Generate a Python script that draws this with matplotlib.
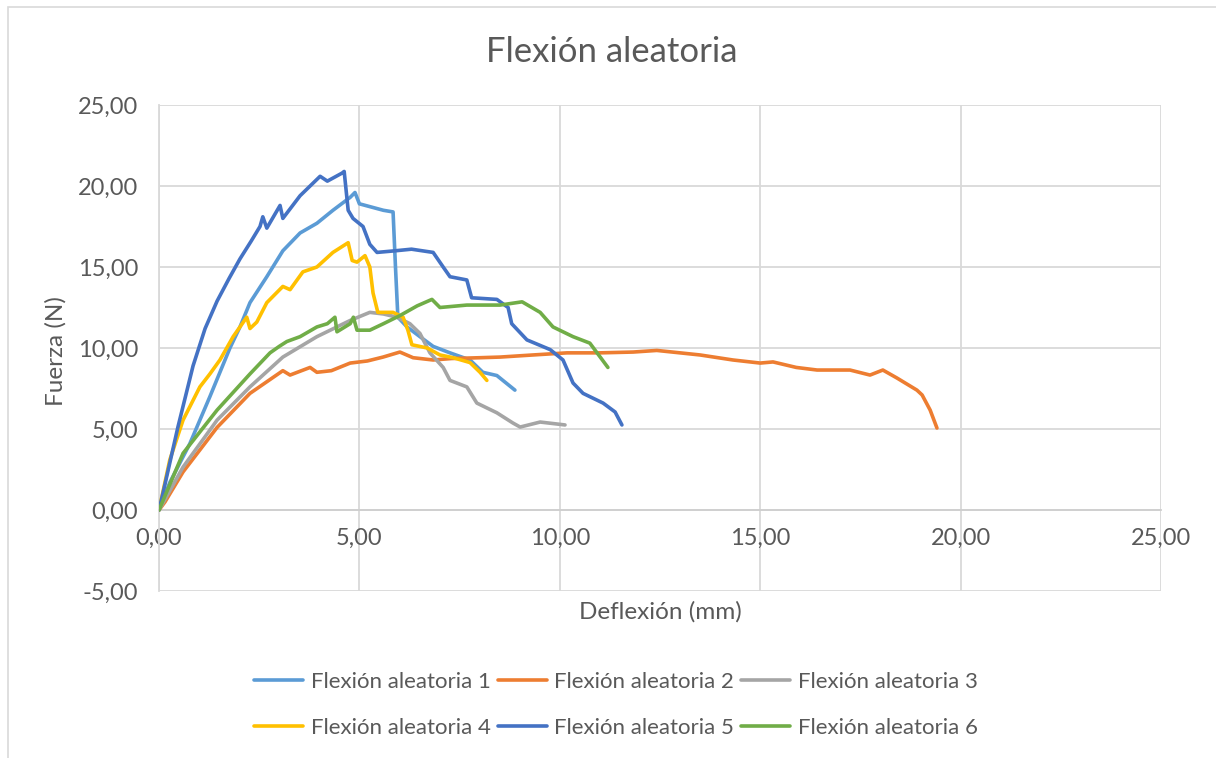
import matplotlib
matplotlib.use("Agg")
import matplotlib.pyplot as plt
from matplotlib.patches import Rectangle
from matplotlib.ticker import FuncFormatter, MultipleLocator

plt.rcParams['font.family'] = ['Lato', 'DejaVu Sans']

labels = ["Flexión aleatoria 1", "Flexión aleatoria 2", "Flexión aleatoria 3",
          "Flexión aleatoria 4", "Flexión aleatoria 5", "Flexión aleatoria 6"]
colors = ["#5B9BD5", "#ED7D31", "#A5A5A5", "#FFC000", "#4472C4", "#70AD47"]

# deflexión (mm) / fuerza (N) per test
x1 = [0, 0.27, 0.77, 1.27, 1.77, 2.02, 2.27, 2.69, 3.09, 3.52, 3.94, 4.34, 4.77, 4.89,
      5.0, 5.3, 5.6, 5.84, 5.9, 5.96, 6.19, 6.51, 6.84, 7.26, 7.76, 8.08, 8.43, 8.88]
y1 = [0, 1.7, 4.1, 7.0, 10.0, 11.3, 12.8, 14.4, 16.0, 17.1, 17.7, 18.5, 19.3, 19.6,
      18.9, 18.7, 18.5, 18.4, 15.0, 11.9, 11.3, 10.7, 10.1, 9.7, 9.26, 8.5, 8.3, 7.4]

x2 = [0, 0.15, 0.6, 1.45, 2.27, 3.09, 3.27, 3.45, 3.77, 3.94, 4.3, 4.77, 5.2, 5.59,
      6.01, 6.34, 6.84, 7.3, 8.0, 8.51, 9.33, 10.18, 11.0, 11.83, 12.42, 13.0, 13.5,
      14.32, 15.0, 15.32, 15.9, 16.42, 17.24, 17.74, 18.06, 18.41, 18.91, 19.04, 19.24, 19.41]
y2 = [0, 0.5, 2.35, 5.1, 7.2, 8.6, 8.33, 8.5, 8.8, 8.5, 8.6, 9.07, 9.2, 9.44,
      9.75, 9.4, 9.26, 9.35, 9.4, 9.44, 9.57, 9.7, 9.7, 9.75, 9.85, 9.7, 9.57,
      9.26, 9.07, 9.14, 8.8, 8.64, 8.64, 8.33, 8.64, 8.15, 7.4, 7.1, 6.17, 5.06]

x3 = [0, 0.6, 1.45, 2.27, 3.09, 3.94, 4.77, 5.26, 5.6, 5.94, 6.26, 6.51, 6.76, 7.09,
      7.26, 7.68, 7.93, 8.43, 8.83, 9.01, 9.51, 10.13]
y3 = [0, 2.65, 5.55, 7.6, 9.44, 10.7, 11.7, 12.2, 12.1, 11.9, 11.5, 10.9, 9.7, 8.8,
      8.0, 7.6, 6.6, 6.0, 5.37, 5.12, 5.43, 5.25]

x4 = [0, 0.27, 0.6, 1.02, 1.27, 1.52, 1.85, 2.19, 2.27, 2.44, 2.69, 3.09, 3.27, 3.59,
      3.94, 4.34, 4.72, 4.82, 4.94, 5.14, 5.26, 5.34, 5.46, 5.84, 6.09, 6.21, 6.31,
      6.69, 7.01, 7.34, 7.76, 8.01, 8.18]
y4 = [0, 3.1, 5.55, 7.6, 8.4, 9.26, 10.7, 11.9, 11.2, 11.6, 12.8, 13.8, 13.6, 14.7,
      15.0, 15.9, 16.5, 15.4, 15.3, 15.7, 15.0, 13.4, 12.2, 12.2, 11.9, 11.1, 10.2,
      10.0, 9.57, 9.4, 9.1, 8.5, 8.0]

x5 = [0, 0.10, 0.47, 0.85, 1.15, 1.45, 1.75, 2.02, 2.3, 2.52, 2.59, 2.69, 3.02, 3.09,
      3.52, 4.02, 4.2, 4.57, 4.62, 4.72, 4.84, 5.09, 5.26, 5.44, 5.89, 6.3, 6.84, 7.09,
      7.26, 7.68, 7.80, 8.43, 8.71, 8.80, 9.18, 9.76, 10.08, 10.33, 10.58, 11.08, 11.38,
      11.55]
y5 = [0, 1.05, 5.1, 8.9, 11.2, 12.9, 14.3, 15.5, 16.6, 17.5, 18.1, 17.4, 18.8, 18.0,
      19.4, 20.6, 20.3, 20.8, 20.9, 18.5, 18.0, 17.5, 16.4, 15.9, 16.0, 16.1, 15.9, 15.0,
      14.4, 14.2, 13.1, 13.0, 12.5, 11.5, 10.5, 9.9, 9.26, 7.84, 7.2, 6.6, 6.05,
      5.25]

x6 = [0, 0.6, 1.45, 2.27, 2.77, 3.0, 3.19, 3.52, 3.94, 4.2, 4.39, 4.44, 4.77, 4.85,
      4.94, 5.26, 5.6, 6.01, 6.44, 6.81, 7.01, 7.68, 8.51, 9.06, 9.51, 9.83, 10.33,
      10.75, 10.93, 11.2]
y6 = [0, 3.5, 6.17, 8.4, 9.7, 10.1, 10.4, 10.7, 11.3, 11.5, 11.9, 11.0, 11.5, 11.9,
      11.1, 11.1, 11.5, 12.0, 12.6, 13.0, 12.5, 12.65, 12.65, 12.85, 12.2, 11.3, 10.7,
      10.3, 9.7, 8.8]

TEXT = "#595959"
GRID = "#D9D9D9"


def comma(v, pos):
    return f"{v:.2f}".replace(".", ",")


def plot_tests(series):
    fig = plt.figure(figsize=(12.16, 7.58), dpi=100)
    ax = fig.add_axes([159 / 1216, 1 - 591 / 758, 1002 / 1216, 486 / 758])

    lines = []
    for (xs, ys), label, color in zip(series, labels, colors):
        ln, = ax.plot(xs, ys, color=color, lw=2.6, label=label,
                      solid_capstyle='round', solid_joinstyle='round', zorder=3)
        lines.append(ln)

    ax.set_xlim(0, 25)
    ax.set_ylim(-5, 25)
    ax.xaxis.set_major_locator(MultipleLocator(5))
    ax.yaxis.set_major_locator(MultipleLocator(5))
    ax.xaxis.set_major_formatter(FuncFormatter(comma))
    ax.yaxis.set_major_formatter(FuncFormatter(comma))
    ax.grid(True, color=GRID, lw=1.3, zorder=0)
    ax.set_axisbelow(True)

    for s in ['top', 'right']:
        ax.spines[s].set_visible(False)
    ax.spines['left'].set_color(GRID)
    ax.spines['left'].set_linewidth(1.3)
    ax.spines['bottom'].set_position(('data', 0))
    ax.spines['bottom'].set_color("#CFCFCF")
    ax.spines['bottom'].set_linewidth(1.3)

    ax.tick_params(axis='both', length=0, labelsize=17, colors=TEXT)
    ax.tick_params(axis='x', pad=13)
    ax.tick_params(axis='y', pad=15)

    fig.text(0.503, 1 - 52 / 758, "Flexión aleatoria", ha='center', va='center',
             fontsize=25, color=TEXT)
    fig.text(660 / 1216, 1 - 612 / 758, "Deflexión (mm)", ha='center', va='center',
             fontsize=17.5, color=TEXT)
    fig.text(56 / 1216, 1 - 351 / 758, "Fuerza (N)", ha='center', va='center',
             rotation=90, fontsize=17.5, color=TEXT)

    # legend reads across rows: 1 2 3 / 4 5 6
    order = [0, 3, 1, 4, 2, 5]
    fig.legend([lines[i] for i in order], [labels[i] for i in order],
               loc='center', bbox_to_anchor=(616 / 1216, 1 - 705 / 758), ncol=3,
               frameon=False, fontsize=16, labelcolor=TEXT, handlelength=2.2,
               handletextpad=0.35, columnspacing=0.3, labelspacing=1.15)

    fig.patches.append(Rectangle((7.5 / 1216, -0.05), 1.2, 1 - 6.5 / 758 + 0.05,
                                 transform=fig.transFigure, fill=False,
                                 edgecolor=GRID, lw=1.2))
    fig.savefig("out.png", dpi=100)


if __name__ == "__main__":
    plot_tests([(x1, y1), (x2, y2), (x3, y3), (x4, y4), (x5, y5), (x6, y6)])
